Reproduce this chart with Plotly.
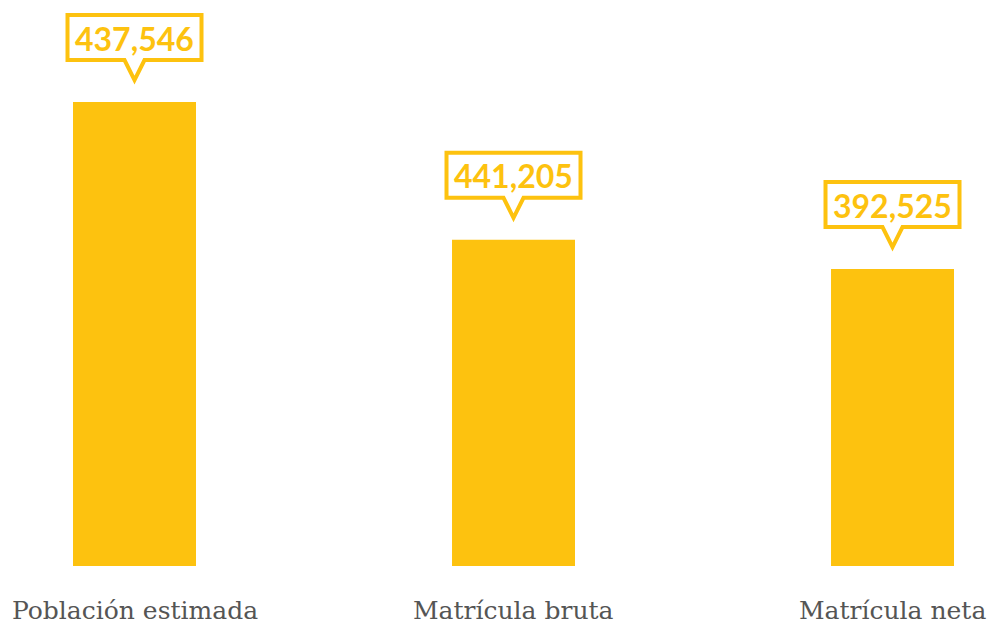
import plotly.graph_objects as go

categories = ["Población estimada", "Matrícula bruta", "Matrícula neta"]
bar_heights = [100.0, 70.3, 64.0]          # relative bar heights as drawn
callout_values = [437546, 441205, 392525]  # numbers shown in the callouts

YELLOW = "#FDC20F"
GREY = "#555555"

x_pos = list(range(len(categories)))

fig = go.Figure()
fig.add_trace(go.Bar(
    x=x_pos, y=bar_heights, width=0.3245,
    marker=dict(color=YELLOW, line=dict(width=0)),
    hoverinfo="skip",
))

# callout bubble geometry (pixels, relative to bar top centre, y up)
half_w, box_bot, box_top, notch_half, tip = 67, 42, 87, 10, 22


def bubble_path():
    pts = [(-notch_half, box_bot), (-half_w, box_bot), (-half_w, box_top),
           (half_w, box_top), (half_w, box_bot), (notch_half, box_bot), (0, tip)]
    return "M " + " L ".join(f"{px},{py}" for px, py in pts) + " Z"


for xi, h, v in zip(x_pos, bar_heights, callout_values):
    fig.add_shape(
        type="path", xref="x", yref="y",
        xsizemode="pixel", ysizemode="pixel", xanchor=xi, yanchor=h,
        path=bubble_path(),
        fillcolor="white", line=dict(color=YELLOW, width=4), layer="above",
    )
    fig.add_annotation(
        x=xi, y=h, xref="x", yref="y", text=f"<b>{v:,}</b>", showarrow=False,
        yanchor="middle", yshift=(box_bot + box_top) / 2 - 0.5,
        font=dict(family="Lato", size=32, color=YELLOW),
    )

for xi, c in zip(x_pos, categories):
    fig.add_annotation(
        x=xi, y=0, xref="x", yref="paper", text=c, showarrow=False,
        yanchor="middle", yshift=-44,
        font=dict(family="DejaVu Serif", size=25, color=GREY),
    )

fig.update_layout(
    width=987, height=624,
    margin=dict(l=0, r=0, t=0, b=58),
    paper_bgcolor="white", plot_bgcolor="white",
    showlegend=False,
    xaxis=dict(range=[-0.3549, 2.2493], showgrid=False, zeroline=False,
               showticklabels=False, showline=False, fixedrange=True),
    yaxis=dict(range=[0, 122], showgrid=False, zeroline=False,
               showticklabels=False, showline=False, fixedrange=True),
)

fig.write_html("out.html", config={"displayModeBar": False},
               post_script="document.body.style.margin='0';")
